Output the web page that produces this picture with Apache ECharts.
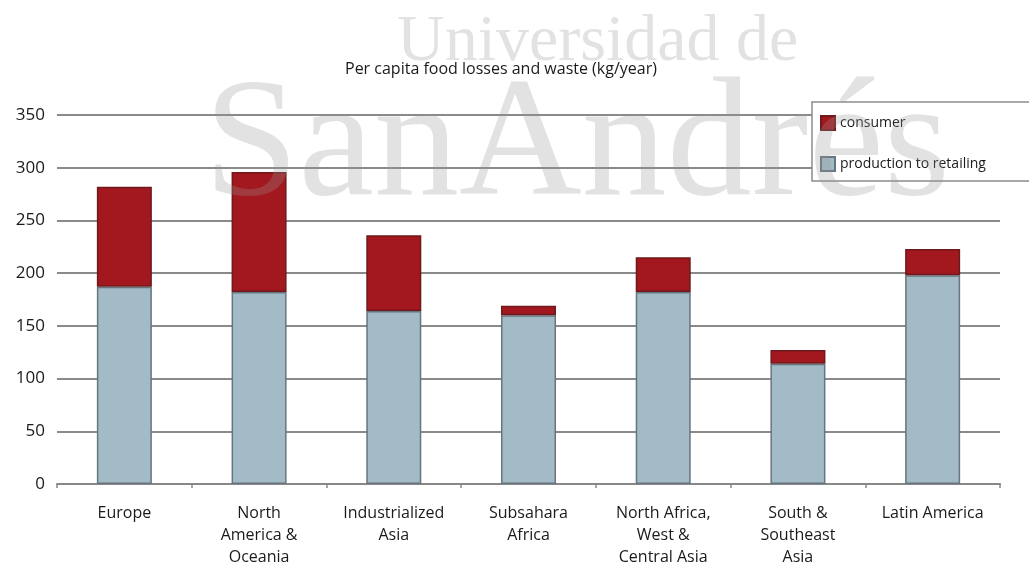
<!DOCTYPE html>
<html>
<head>
    <meta charset="utf-8">
    <title>Per capita food losses and waste</title>
    <style>
        html, body { margin: 0; padding: 0; background: #fff; }
        #chartBox { width: 1029px; height: 568px; }
    </style>
</head>
<body>
    <div id="chartBox"></div>
    <script src="https://cdn.jsdelivr.net/npm/echarts@6/dist/echarts.min.js"></script>
    <script>
        // regions (x axis)
        var regions = ['Europe', 'North\nAmerica &\nOceania', 'Industrialized\nAsia', 'Subsahara\nAfrica',
            'North Africa,\nWest &\nCentral Asia', 'South &\nSoutheast\nAsia', 'Latin America'];
        // kg/year
        var productionToRetailing = [187, 182, 164, 160, 182, 114, 198];
        var consumer = [95, 114, 72, 9, 33, 13, 25];
        var yTicks = { min: 0, max: 350, step: 50 };

        var chart = echarts.init(document.getElementById('chartBox'));
        var font = '"Open Sans", "Noto Sans", sans-serif';

        var option = {
            animation: false,
            backgroundColor: '#fff',
            title: {
                text: 'Per capita food losses and waste (kg/year)',
                left: 340,
                top: 56,
                textStyle: { fontFamily: font, fontSize: 16, fontWeight: 'normal', color: '#1a1a1a' }
            },
            legend: {
                orient: 'vertical',
                left: 812,
                top: 102,
                padding: [13, 45, 9, 8],
                itemGap: 25,
                itemWidth: 14,
                itemHeight: 14,
                icon: 'rect',
                backgroundColor: '#fff',
                borderColor: '#8c8c8c',
                borderWidth: 1.5,
                data: ['consumer', 'production to retailing'],
                textStyle: { fontFamily: font, fontSize: 14, color: '#1a1a1a' }
            },
            grid: { left: 57, right: 29, top: 115, bottom: 83 },
            xAxis: {
                type: 'category',
                data: regions,
                axisLine: { lineStyle: { color: '#888', width: 2 } },
                axisTick: { show: true, length: 4, lineStyle: { color: '#888', width: 1.5 } },
                axisLabel: {
                    interval: 0,
                    margin: 18,
                    fontFamily: font,
                    fontSize: 16,
                    lineHeight: 22,
                    color: '#1a1a1a'
                }
            },
            yAxis: {
                type: 'value',
                min: yTicks.min,
                max: yTicks.max,
                interval: yTicks.step,
                axisLine: { show: false },
                axisTick: { show: false },
                splitLine: { lineStyle: { color: '#8a8a8a', width: 2 } },
                axisLabel: { margin: 12, fontFamily: font, fontSize: 17, color: '#1a1a1a' }
            },
            series: [{
                name: 'production to retailing',
                type: 'bar',
                stack: 'total',
                barWidth: 55,
                itemStyle: { color: '#a2bbc6', borderColor: '#66757e', borderWidth: 1.5 },
                data: productionToRetailing
            }, {
                name: 'consumer',
                type: 'bar',
                stack: 'total',
                barWidth: 55,
                itemStyle: { color: '#a3171e', borderColor: '#6e1a1d', borderWidth: 1.5 },
                data: consumer
            }],
            // watermark of the scanned source
            graphic: [{
                type: 'text',
                z: 100,
                left: 397,
                top: 10,
                style: {
                    text: 'Universidad de',
                    font: '66px "Liberation Serif", "DejaVu Serif", serif',
                    fill: 'rgba(150,150,150,0.28)'
                }
            }, {
                type: 'text',
                z: 100,
                left: 204,
                top: 64,
                style: {
                    text: 'SanAndrés',
                    font: '170px "Liberation Serif", "DejaVu Serif", serif',
                    fill: 'rgba(150,150,150,0.28)'
                }
            }]
        };

        chart.setOption(option);
        window.addEventListener('resize', function () {
            chart.resize();
        });
    </script>
</body>
</html>
